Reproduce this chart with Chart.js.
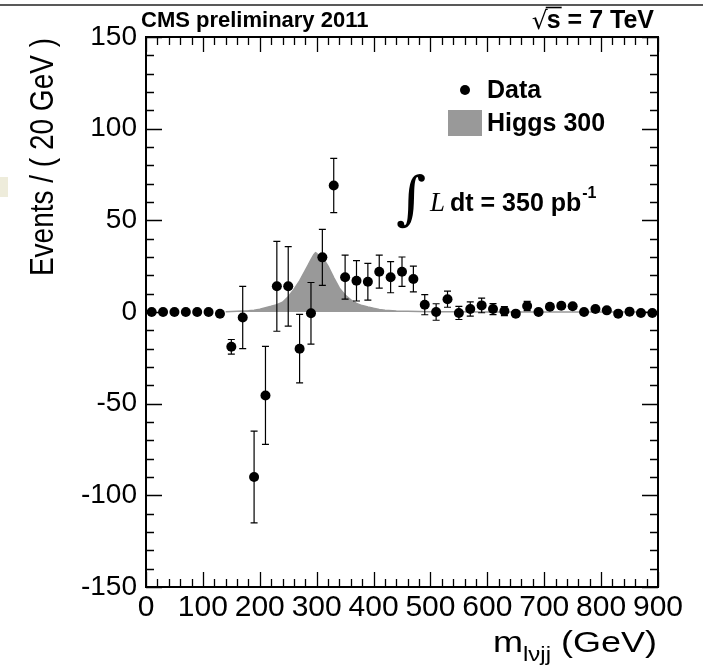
<!DOCTYPE html>
<html><head><meta charset="utf-8">
<script src="https://cdn.jsdelivr.net/npm/chart.js@4.4.0/dist/chart.umd.min.js"></script>
<style>html,body{margin:0;padding:0;background:#fff;}</style>
</head><body>
<canvas id="c" width="703" height="667" style="display:block;width:703px;height:667px"></canvas>
<script>
// ---- data ----
const binCenters = [10,30,50,70,90,110,130,150,170,190,210,230,250,270,290,310,330,350,370,390,410,430,450,470,490,510,530,550,570,590,610,630,650,670,690,710,730,750,770,790,810,830,850,870,890];
const dataValues = [0,0,0,0,0,0,-1,-19,-3,-90,-45.5,14,14,-20,-0.7,29.8,69,19,17,16.5,22,19,22,18,4,0,7,-0.5,1.6,3.6,1.6,0.5,-0.9,3.3,0,2.9,3.4,3.1,0,1.6,0.9,-0.9,0.2,-0.5,-0.5];
const dataErrors = [0,0,0,0,0,0,0,4,17,25,26.7,24.5,21.7,18.7,16.8,15.3,14.8,12,11,10,9,8.5,8,7,5.5,4.5,4.4,3.6,3.9,4,3,2.5,1.5,2.5,1.5,1.5,1.5,1.5,1,1,1,1,1,1,1];
const higgsMass = [140,160,180,190,200,210,220,230,240,250,260,270,280,285,290,295,298,300,305,310,315,320,330,340,350,360,370,380,390,400,410,420,440,460,480,500,550,600,700,800,900];
const higgsValues = [0.2,0.4,0.7,1.0,1.5,2.3,3.1,4.0,5.3,8.3,12.3,17,22.7,25.6,28.6,31.2,32.3,32,30,28.6,27.5,25,18.8,13,9.3,6.6,4.7,3.5,2.7,2.0,1.4,1.0,0.6,0.4,0.25,0.15,0.08,0.05,0.02,0.01,0];
const xTickLabels = [0,100,200,300,400,500,600,700,800,900];
const yTickLabels = [-150,-100,-50,0,50,100,150];
const legendLabels = ['Data','Higgs 300'];

const SANS = '"Liberation Sans", Arial, Helvetica, sans-serif';

const errorBarPlugin = {
  id: 'errbars',
  beforeDatasetDraw(chart, args) {
    if (args.index !== 1) return;
    const {ctx, chartArea: a, scales: {x, y}} = chart;
    ctx.save();
    ctx.beginPath(); ctx.rect(a.left, a.top, a.right - a.left, a.bottom - a.top); ctx.clip();
    ctx.strokeStyle = '#000'; ctx.lineWidth = 1.2;
    for (let i = 0; i < binCenters.length; i++) {
      const e = dataErrors[i];
      if (!e) continue;
      const px = x.getPixelForValue(binCenters[i]);
      const yt = y.getPixelForValue(dataValues[i] + e);
      const yb = y.getPixelForValue(dataValues[i] - e);
      ctx.beginPath();
      ctx.moveTo(px, yt); ctx.lineTo(px, yb);
      ctx.moveTo(px - 3.5, yt); ctx.lineTo(px + 3.5, yt);
      ctx.moveTo(px - 3.5, yb); ctx.lineTo(px + 3.5, yb);
      ctx.stroke();
    }
    ctx.restore();
  }
};

const framePlugin = {
  id: 'frame',
  afterDraw(chart) {
    const {ctx, chartArea: a, scales: {x, y}} = chart;
    ctx.save();
    // ticks inside
    ctx.strokeStyle = '#000'; ctx.lineWidth = 1.3;
    ctx.beginPath();
    for (let v = xTickLabels[0]; v <= xTickLabels[xTickLabels.length - 1] + 1e-9; v += 20) {
      const px = Math.round(x.getPixelForValue(v)) + 0.5;
      const len = (Math.abs(v % 100) < 1e-6) ? 15 : 8;
      ctx.moveTo(px, a.bottom); ctx.lineTo(px, a.bottom - len);
      ctx.moveTo(px, a.top); ctx.lineTo(px, a.top + len);
    }
    for (let v = yTickLabels[0]; v <= yTickLabels[yTickLabels.length - 1] + 1e-9; v += 10) {
      const py = Math.round(y.getPixelForValue(v)) + 0.5;
      const len = (Math.abs(v % 50) < 1e-6) ? 16 : 8;
      ctx.moveTo(a.left, py); ctx.lineTo(a.left + len, py);
      ctx.moveTo(a.right, py); ctx.lineTo(a.right - len, py);
    }
    ctx.stroke();
    // frame
    ctx.lineWidth = 2;
    ctx.strokeRect(a.left, a.top, a.right - a.left, a.bottom - a.top);

    // top rule + side mark
    ctx.strokeStyle = '#222'; ctx.lineWidth = 1.5;
    ctx.beginPath(); ctx.moveTo(0, 5); ctx.lineTo(703, 5); ctx.stroke();
    ctx.fillStyle = '#eeecdb'; ctx.fillRect(0, 177, 8, 20);

    ctx.fillStyle = '#000';
    ctx.textBaseline = 'alphabetic';
    // header texts
    ctx.font = 'bold 22px ' + SANS; ctx.textAlign = 'left';
    ctx.fillText('CMS preliminary 2011', 141, 27);
    ctx.textAlign = 'right';
    ctx.font = 'bold 25px ' + SANS;
    const t2 = 's = 7 TeV';
    ctx.fillText(t2, 654, 28);
    const w2 = ctx.measureText(t2).width;
    const sw = ctx.measureText('s').width;
    const sx = 654 - w2;
    ctx.font = '25px "DejaVu Sans", sans-serif';
    ctx.fillText('\u221A', sx + 1, 29);
    ctx.lineWidth = 1.6; ctx.strokeStyle = '#000';
    ctx.beginPath(); ctx.moveTo(sx - 1, 7.5); ctx.lineTo(sx + sw + 1, 7.5); ctx.stroke();

    // legend
    ctx.beginPath(); ctx.arc(465, 90, 5, 0, Math.PI * 2); ctx.fill();
    ctx.fillStyle = '#999999'; ctx.fillRect(448, 110, 34, 26);
    ctx.fillStyle = '#000';
    ctx.font = 'bold 25px ' + SANS; ctx.textAlign = 'left'; ctx.textBaseline = 'middle';
    ctx.fillText(legendLabels[0], 487, 91);
    ctx.fillText(legendLabels[1], 487, 124);

    // luminosity
    ctx.textBaseline = 'alphabetic';
    ctx.font = '58px "DejaVu Serif", "Liberation Serif", serif';
    ctx.fillText('\u222B', 396, 218);
    ctx.font = 'italic 27px "Liberation Serif", serif';
    ctx.fillText('L', 430, 211);
    ctx.font = 'bold 25px ' + SANS;
    ctx.fillText('dt = 350 pb', 450, 211);
    const wl = ctx.measureText('dt = 350 pb').width;
    ctx.font = 'bold 16px ' + SANS;
    ctx.fillText('-1', 450 + wl + 1, 198);

    // y title
    ctx.save();
    ctx.translate(53, 38); ctx.rotate(-Math.PI / 2); ctx.scale(1, 1.2);
    ctx.font = '28px ' + SANS; ctx.textAlign = 'right';
    ctx.fillText('Events / ( 20 GeV )', 0, 0);
    ctx.restore();

    // x title (slightly widened like the reference)
    ctx.save();
    ctx.textAlign = 'left';
    ctx.font = '30px ' + SANS;
    const gev = ' (GeV)';
    const wg = ctx.measureText(gev).width;
    const wm = ctx.measureText('m').width;
    ctx.font = '20px ' + SANS;
    const wsub = ctx.measureText('l\u03BDjj').width;
    const sc = 1.2;
    const x0 = 657 - sc * (wg + wsub + wm);
    ctx.translate(x0, 0); ctx.scale(sc, 1);
    ctx.font = '30px ' + SANS;
    ctx.fillText('m', 0, 652);
    ctx.fillText(gev, wm + wsub, 652);
    ctx.font = '20px ' + SANS;
    ctx.fillText('l\u03BDjj', wm, 661);
    ctx.restore();
    ctx.restore();
  }
};

new Chart(document.getElementById('c'), {
  data: {
    datasets: [
      {
        type: 'line', label: legendLabels[1],
        data: higgsMass.map((m, i) => ({x: m, y: higgsValues[i]})),
        borderColor: '#999999', backgroundColor: '#999999', borderWidth: 1.5,
        fill: 'origin', pointRadius: 0, tension: 0, order: 2
      },
      {
        type: 'scatter', label: legendLabels[0],
        data: binCenters.map((c, i) => ({x: c, y: dataValues[i]})),
        backgroundColor: '#000', borderColor: '#000', borderWidth: 0,
        pointRadius: 5, order: 1
      }
    ]
  },
  options: {
    responsive: false, animation: false, devicePixelRatio: 1,
    layout: {padding: {left: 0, top: 37, right: 45, bottom: 0}},
    plugins: {legend: {display: false}, tooltip: {enabled: false}, title: {display: false}},
    scales: {
      x: {
        type: 'linear', min: xTickLabels[0], max: xTickLabels[xTickLabels.length - 1],
        grid: {display: false, drawTicks: false}, border: {display: false},
        afterBuildTicks: s => { s.ticks = xTickLabels.map(v => ({value: v})); },
        afterFit: s => { s.height = 80; },
        ticks: {font: {family: SANS, size: 30}, color: '#000', padding: 3, maxRotation: 0, autoSkip: false,
                callback: v => String(v)}
      },
      y: {
        type: 'linear', min: yTickLabels[0], max: yTickLabels[yTickLabels.length - 1],
        grid: {display: false, drawTicks: false}, border: {display: false},
        afterBuildTicks: s => { s.ticks = yTickLabels.map(v => ({value: v})); },
        afterFit: s => { s.width = 146; },
        ticks: {font: {family: SANS, size: 28}, color: '#000', padding: 9, autoSkip: false,
                callback: v => String(v)}
      }
    }
  },
  plugins: [errorBarPlugin, framePlugin]
});
</script>
</body></html>
